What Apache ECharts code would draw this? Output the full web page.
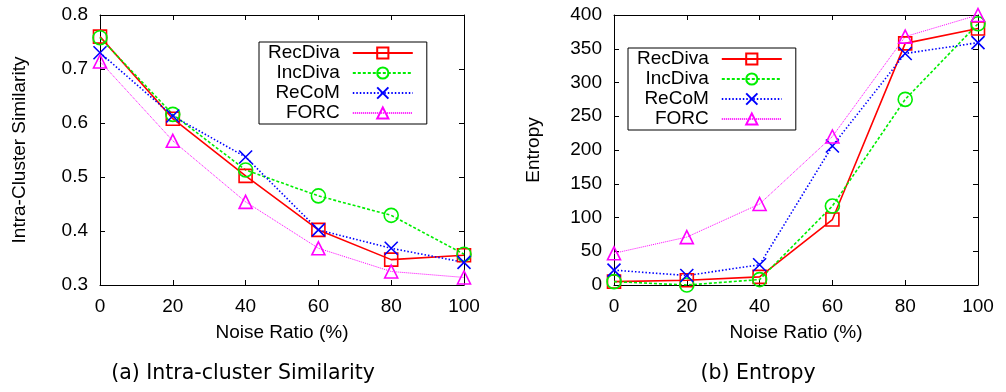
<!DOCTYPE html>
<html>
<head>
<meta charset="utf-8">
<script src="https://cdn.jsdelivr.net/npm/echarts@6/dist/echarts.min.js"></script>
<style>
html,body{margin:0;padding:0;background:#fff;}
#chart{width:1006px;height:392px;}
</style>
</head>
<body>
<div id="chart"></div>
<script>
// ---- data ----
const noiseRatio = [0, 20, 40, 60, 80, 100];
const seriesNames = ['RecDiva', 'IncDiva', 'ReCoM', 'FORC'];

const simRecDiva = [0.760, 0.608, 0.502, 0.402, 0.347, 0.355];
const simIncDiva = [0.758, 0.616, 0.513, 0.465, 0.429, 0.357];
const simReCoM   = [0.730, 0.613, 0.537, 0.402, 0.368, 0.342];
const simFORC    = [0.714, 0.567, 0.454, 0.368, 0.325, 0.314];

const entRecDiva = [5, 7, 12, 97, 358, 380];
const entIncDiva = [5, 0, 8, 117, 275, 387];
const entReCoM   = [22, 14, 30, 206, 343, 359];
const entFORC    = [47, 71, 120, 220, 368, 400];

const xAxisTitle = 'Noise Ratio (%)';
const leftYTitle = 'Intra-Cluster Similarity';
const rightYTitle = 'Entropy';
const captionA = '(a) Intra-cluster Similarity';
const captionB = '(b) Entropy';

// ---- styles ----
const FONT = 'Liberation Sans';
const styles = {
  RecDiva: { color: '#ff0000', type: 'solid', width: 1.6, symbol: 'rect', size: 13 },
  IncDiva: { color: '#00ee00', type: [3, 2], width: 1.6, symbol: 'circle', size: 14 },
  ReCoM:   { color: '#0000ff', type: [1.5, 2], width: 1.6, symbol: 'path://M0,0L10,10M10,0L0,10', size: 13 },
  FORC:    { color: '#ff00ff', type: [1, 1], width: 1, symbol: 'triangle', size: 13 }
};

function mkSeries(name, values, xi, yi) {
  const s = styles[name];
  return {
    name: name,
    type: 'line',
    xAxisIndex: xi,
    yAxisIndex: yi,
    data: noiseRatio.map((x, i) => [x, values[i]]),
    symbol: s.symbol,
    symbolSize: s.size,
    showAllSymbol: true,
    animation: false,
    lineStyle: { color: s.color, width: s.width, type: s.type },
    itemStyle: { color: 'rgba(0,0,0,0)', borderColor: s.color, borderWidth: 1.6 },
    emphasis: { disabled: true },
    z: 3
  };
}

function xAx(gi, pos, show) {
  return {
    type: 'value', gridIndex: gi, position: pos, min: 0, max: 100, interval: 20,
    name: show ? xAxisTitle : '', nameLocation: 'middle', nameGap: 38,
    nameTextStyle: { fontFamily: FONT, fontSize: 19, color: '#000' },
    axisLine: { show: true, onZero: false, lineStyle: { color: '#000', width: 1 } },
    axisTick: { show: true, inside: true, length: 5, lineStyle: { color: '#000' } },
    axisLabel: { show: show, margin: 12, fontFamily: FONT, fontSize: 19, color: '#000' },
    splitLine: { show: false }
  };
}
function yAx(gi, pos, show, min, max, interval, title, fmt) {
  return {
    type: 'value', gridIndex: gi, position: pos, min: min, max: max, interval: interval,
    name: show ? title : '', nameLocation: 'middle', nameGap: 71,
    nameTextStyle: { fontFamily: FONT, fontSize: 19, color: '#000' },
    axisLine: { show: true, onZero: false, lineStyle: { color: '#000', width: 1 } },
    axisTick: { show: true, inside: true, length: 5, lineStyle: { color: '#000' } },
    axisLabel: { show: show, margin: 12, fontFamily: FONT, fontSize: 19, color: '#000', formatter: fmt },
    splitLine: { show: false }
  };
}

function mkLegend(left, top) {
  return {
    orient: 'vertical', left: left, top: top, align: 'right',
    data: seriesNames,
    itemWidth: 60, itemHeight: 14, itemGap: 0,
    padding: [1, 13, 1, 9],
    borderColor: '#000', borderWidth: 1, backgroundColor: '#fff',
    selectedMode: false,
    textStyle: { fontFamily: FONT, fontSize: 19, color: '#000', lineHeight: 20, padding: [0, 8, 0, 0] }
  };
}

const chart = echarts.init(document.getElementById('chart'), null, { renderer: 'canvas' });
const option = {
  backgroundColor: '#fff',
  animation: false,
  grid: [
    { left: 100, right: 542, top: 15, bottom: 107 },
    { left: 614, right: 28, top: 15, bottom: 107 }
  ],
  xAxis: [xAx(0, 'bottom', true), xAx(0, 'top', false), xAx(1, 'bottom', true), xAx(1, 'top', false)],
  yAxis: [
    yAx(0, 'left', true, 0.3, 0.8, 0.1, leftYTitle, v => v.toFixed(1)),
    yAx(0, 'right', false, 0.3, 0.8, 0.1, '', v => v.toFixed(1)),
    yAx(1, 'left', true, 0, 400, 50, rightYTitle, v => String(v)),
    yAx(1, 'right', false, 0, 400, 50, '', v => String(v))
  ],
  legend: [mkLegend(259, 42), mkLegend(628, 48)],
  series: [
    mkSeries('RecDiva', simRecDiva, 0, 0),
    mkSeries('IncDiva', simIncDiva, 0, 0),
    mkSeries('ReCoM', simReCoM, 0, 0),
    mkSeries('FORC', simFORC, 0, 0),
    mkSeries('RecDiva', entRecDiva, 2, 2),
    mkSeries('IncDiva', entIncDiva, 2, 2),
    mkSeries('ReCoM', entReCoM, 2, 2),
    mkSeries('FORC', entFORC, 2, 2)
  ],
  graphic: [
    { type: 'text', x: 243, y: 374, style: { text: captionA, font: '20.5px "DejaVu Sans"', fill: '#000', textAlign: 'center', textVerticalAlign: 'middle' } },
    { type: 'text', x: 758, y: 374, style: { text: captionB, font: '20.5px "DejaVu Sans"', fill: '#000', textAlign: 'center', textVerticalAlign: 'middle' } }
  ]
};
chart.setOption(option);
</script>
</body>
</html>
